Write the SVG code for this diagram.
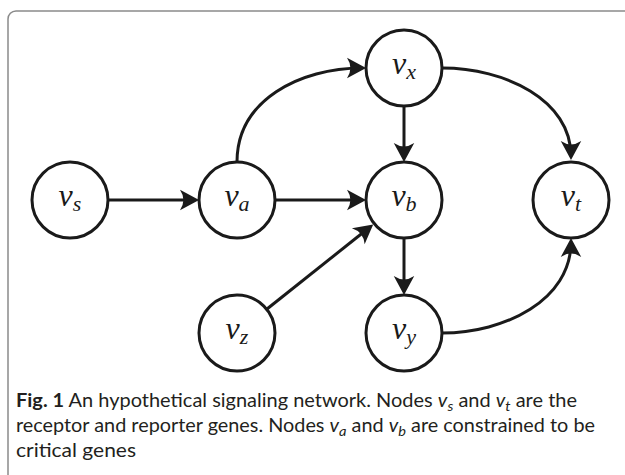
<svg xmlns="http://www.w3.org/2000/svg" width="625" height="475" viewBox="0 0 625 475">
<style>
.node ellipse{fill:#fff;stroke:#1a1a1a;stroke-width:3}
.lbl{font-family:"Liberation Serif","DejaVu Serif",serif;font-style:italic;font-size:32px;fill:#1a1a1a;text-anchor:middle}
.sub{font-size:22px}
.edge{fill:none;stroke:#1a1a1a;stroke-width:3;marker-end:url(#arr)}
.cap{font-family:Lato,"Liberation Sans",sans-serif;font-size:19px;fill:#231f20}
</style>
<defs>
<marker id="arr" markerUnits="userSpaceOnUse" markerWidth="30" markerHeight="30" viewBox="-16 -10 22 20" refX="0" refY="0" orient="auto">
<path d="M3,0 L-11,-7.5 Q-6,0 -11,7.5 Z" fill="#1a1a1a"/>
</marker>
</defs>
<rect x="8" y="11" width="640" height="490" rx="8" fill="none" stroke="#8a8a8a" stroke-width="1.5"/>
<g id="edges">
<path class="edge" d="M108,200 L195,200"/>
<path class="edge" d="M275,200 L362,200"/>
<path class="edge" d="M404,106 L404,158"/>
<path class="edge" d="M404,238 L404,291"/>
<path class="edge" d="M267,309 L370,227"/>
<path class="edge" d="M237,162 C237,100 300,68 362,68"/>
<path class="edge" d="M442,68 C505,68 571,100 571,156"/>
<path class="edge" d="M442,333 C505,333 571,300 571,242"/>
</g>
<g id="vs" class="node"><ellipse cx="70" cy="200" rx="38" ry="38"/><text class="lbl" x="70" y="206">v<tspan class="sub" dy="5">s</tspan></text></g>
<g id="va" class="node"><ellipse cx="237" cy="200" rx="38" ry="38"/><text class="lbl" x="237" y="206">v<tspan class="sub" dy="5">a</tspan></text></g>
<g id="vb" class="node"><ellipse cx="404" cy="200" rx="38" ry="38"/><text class="lbl" x="404" y="206">v<tspan class="sub" dy="5">b</tspan></text></g>
<g id="vt" class="node"><ellipse cx="571" cy="200" rx="38" ry="38"/><text class="lbl" x="571" y="206">v<tspan class="sub" dy="5">t</tspan></text></g>
<g id="vx" class="node"><ellipse cx="404" cy="68" rx="38" ry="38"/><text class="lbl" x="404" y="74">v<tspan class="sub" dy="5">x</tspan></text></g>
<g id="vz" class="node"><ellipse cx="237" cy="333" rx="38" ry="38"/><text class="lbl" x="237" y="339">v<tspan class="sub" dy="5">z</tspan></text></g>
<g id="vy" class="node"><ellipse cx="404" cy="333" rx="38" ry="38"/><text class="lbl" x="404" y="339">v<tspan class="sub" dy="5">y</tspan></text></g>
<g id="caption">
<text class="cap" x="16" y="407" textLength="561" lengthAdjust="spacingAndGlyphs"><tspan font-weight="bold">Fig. 1</tspan> An hypothetical signaling network. Nodes <tspan font-style="italic">v</tspan><tspan font-style="italic" font-size="14" dy="4">s</tspan><tspan dy="-4"> and </tspan><tspan font-style="italic">v</tspan><tspan font-style="italic" font-size="14" dy="4">t</tspan><tspan dy="-4"> are the</tspan></text>
<text class="cap" x="16" y="432" textLength="579" lengthAdjust="spacingAndGlyphs">receptor and reporter genes. Nodes <tspan font-style="italic">v</tspan><tspan font-style="italic" font-size="14" dy="4">a</tspan><tspan dy="-4"> and </tspan><tspan font-style="italic">v</tspan><tspan font-style="italic" font-size="14" dy="4">b</tspan><tspan dy="-4"> are constrained to be</tspan></text>
<text class="cap" x="16" y="457" textLength="120" lengthAdjust="spacingAndGlyphs">critical genes</text>
</g>
</svg>
